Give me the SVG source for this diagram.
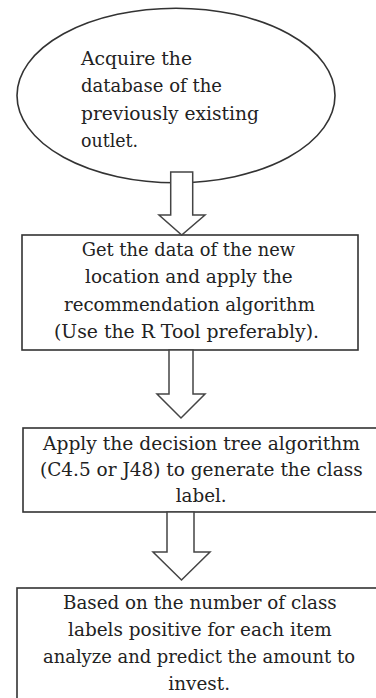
<svg xmlns="http://www.w3.org/2000/svg" width="376" height="698" viewBox="0 0 376 698">
<style>
.shape{fill:#fff;stroke:#333;stroke-width:1.6}
.arrow{fill:#fff;stroke:#444;stroke-width:1.5;stroke-linejoin:miter}
.t{font-family:'DejaVu Serif','Liberation Serif',serif;font-size:18px;fill:#222}
</style>
<rect width="376" height="698" fill="#fff"/>
<g id="node1">
<ellipse class="shape" cx="176" cy="95.5" rx="159" ry="87.3"/>
<text class="t" x="81" y="65" textLength="111" lengthAdjust="spacingAndGlyphs">Acquire the</text>
<text class="t" x="81" y="92" textLength="141" lengthAdjust="spacingAndGlyphs">database of the</text>
<text class="t" x="81" y="119.5" textLength="178" lengthAdjust="spacingAndGlyphs">previously existing</text>
<text class="t" x="81" y="146.5" textLength="57" lengthAdjust="spacingAndGlyphs">outlet.</text>
</g>
<g id="node2">
<rect class="shape" x="22" y="235" width="336" height="115"/>
<text class="t" x="81.7" y="255.7" textLength="213.3" lengthAdjust="spacingAndGlyphs">Get the data of the new</text>
<text class="t" x="85" y="283.3" textLength="207.7" lengthAdjust="spacingAndGlyphs">location and apply the</text>
<text class="t" x="64" y="310.7" textLength="251" lengthAdjust="spacingAndGlyphs">recommendation algorithm</text>
<text class="t" x="54" y="337.7" textLength="265" lengthAdjust="spacingAndGlyphs">(Use the R Tool preferably).</text>
</g>
<g id="node3">
<rect class="shape" x="23" y="428" width="360" height="84"/>
<text class="t" x="43" y="450" textLength="317" lengthAdjust="spacingAndGlyphs">Apply the decision tree algorithm</text>
<text class="t" x="40" y="476" textLength="322.7" lengthAdjust="spacingAndGlyphs">(C4.5 or J48) to generate the class</text>
<text class="t" x="175.7" y="501.7" textLength="51" lengthAdjust="spacingAndGlyphs">label.</text>
</g>
<g id="node4">
<rect class="shape" x="17" y="588" width="370" height="120"/>
<text class="t" x="63" y="609" textLength="273.7" lengthAdjust="spacingAndGlyphs">Based on the number of class</text>
<text class="t" x="68" y="636" textLength="263.7" lengthAdjust="spacingAndGlyphs">labels positive for each item</text>
<text class="t" x="43" y="663" textLength="312" lengthAdjust="spacingAndGlyphs">analyze and predict the amount to</text>
<text class="t" x="168.3" y="689.5" textLength="61.7" lengthAdjust="spacingAndGlyphs">invest.</text>
</g>
<g id="connectors">
<polygon class="arrow" points="170.7,172 192.7,172 192.7,215 205,215 181.7,235 159,215 170.7,215"/>
<polygon class="arrow" points="169,350 193,350 193,394 205,394 181,418 157,394 169,394"/>
<polygon class="arrow" points="167,512 194,512 194,552 210,552 181.5,580 153,552 167,552"/>
</g>
</svg>
